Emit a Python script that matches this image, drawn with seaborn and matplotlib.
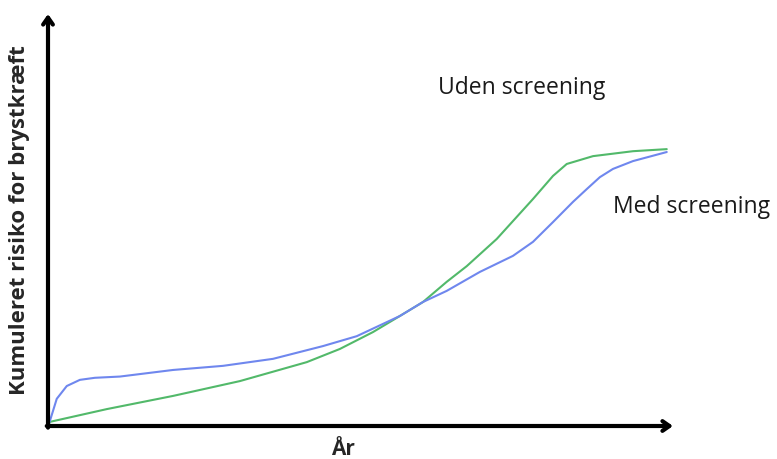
import matplotlib
matplotlib.use('Agg')
import matplotlib.pyplot as plt
import seaborn as sns
import pandas as pd

# Schematic curves, x = time (0-100), y = cumulative risk (0-100)
med_x = [0, 0.3, 1.4, 3.0, 5.1, 7.5, 11.5, 20.0, 28.0, 36.0, 44.0, 49.4, 56.3, 60.0, 63.8,
         69.1, 74.4, 77.6, 80.8, 84.0, 86.2, 88.3, 90.4, 93.6, 99.0]
med_y = [0, 1.2, 6.6, 9.7, 11.2, 11.7, 12.0, 13.6, 14.6, 16.3, 19.4, 21.8, 26.7, 30.1, 32.8,
         37.4, 41.3, 44.7, 49.5, 54.4, 57.5, 60.4, 62.4, 64.3, 66.5]

uden_x = [0, 0.3, 9.4, 20.0, 30.7, 41.4, 46.7, 52.0, 56.3, 60.0, 63.8, 67.0, 71.8, 77.6,
          80.8, 83.0, 87.2, 93.6, 99.0]
uden_y = [0, 1.0, 4.1, 7.3, 10.9, 15.5, 18.7, 22.8, 26.7, 30.1, 35.0, 38.8, 45.4, 55.1,
          60.7, 63.6, 65.5, 66.7, 67.2]

df_med = pd.DataFrame({'x': med_x, 'y': med_y})
df_uden = pd.DataFrame({'x': uden_x, 'y': uden_y})

sns.set_style("white")
plt.rcParams['font.family'] = ['Open Sans', 'DejaVu Sans']

fig = plt.figure(figsize=(7.77, 4.6), dpi=100)
ax = fig.add_axes([48 / 777, 33 / 460, 625 / 777, 412 / 460])

sns.lineplot(data=df_uden, x='x', y='y', color='#52b96a', linewidth=1.5, sort=False, ax=ax)
sns.lineplot(data=df_med, x='x', y='y', color='#6f87ee', linewidth=1.5, sort=False, ax=ax)

ax.set_xlim(0, 100)
ax.set_ylim(0, 100)
ax.set_xticks([])
ax.set_yticks([])
ax.set_xlabel('')
ax.set_ylabel('')
for s in ax.spines.values():
    s.set_visible(False)

# Axis arrows
arrow = dict(arrowstyle='->,head_length=0.5,head_width=0.35', lw=3, color='black',
             shrinkA=0, shrinkB=0)
ax.annotate('', xy=(1.0, 0), xytext=(-0.002, 0), xycoords='axes fraction',
            arrowprops=arrow, annotation_clip=False)
ax.annotate('', xy=(0, 1.0), xytext=(0, -0.004), xycoords='axes fraction',
            arrowprops=arrow, annotation_clip=False)

# Labels
fig.text(522 / 777, 1 - 88 / 460, 'Uden screening', fontsize=16.5, ha='center', va='center', color='#1a1a1a')
fig.text(692 / 777, 1 - 207 / 460, 'Med screening', fontsize=16.5, ha='center', va='center', color='#1a1a1a')
fig.text(343 / 777, 1 - 450 / 460, 'År', fontsize=15, fontweight='bold', ha='center', va='center')
fig.text(20 / 777, 1 - 220 / 460, 'Kumuleret risiko for brystkræft', fontsize=16, fontweight='bold',
         rotation=90, ha='center', va='center')

fig.savefig('out.png', dpi=100)
